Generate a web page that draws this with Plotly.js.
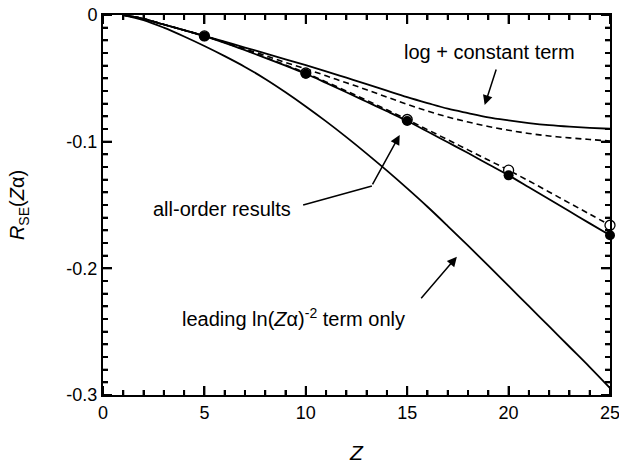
<!DOCTYPE html>
<html>
<head>
<meta charset="utf-8">
<script src="https://cdn.plot.ly/plotly-3.0.1.min.js"></script>
<style>html,body{margin:0;padding:0;background:#fff;}#chart{width:619px;height:468px;}</style>
</head>
<body>
<div id="chart"></div>
<script>
// ---- data ----
const zGrid = [1,2,3,4,5,6,7,8,9,10,11,12,13,14,15,16,17,18,19,20,21,22,23,24,25];
const leadingOnly = [0,-0.004,-0.010,-0.017,-0.0245,-0.0325,-0.041,-0.0505,-0.061,-0.0722,-0.084,-0.0964,-0.1094,-0.1229,-0.1369,-0.1514,-0.1666,-0.1821,-0.1979,-0.2139,-0.2299,-0.2459,-0.2619,-0.2779,-0.2945];
const logConstant = [0,-0.003,-0.0075,-0.012,-0.0165,-0.021,-0.0257,-0.0303,-0.035,-0.0396,-0.0445,-0.0495,-0.0545,-0.0597,-0.0648,-0.0695,-0.074,-0.0775,-0.0808,-0.0832,-0.0853,-0.087,-0.0882,-0.0891,-0.0898];
const logConstantDashed = [0,-0.003,-0.0075,-0.012,-0.0165,-0.0215,-0.0268,-0.032,-0.0375,-0.0425,-0.048,-0.0535,-0.059,-0.0648,-0.0705,-0.0758,-0.0805,-0.0845,-0.088,-0.091,-0.0935,-0.0955,-0.097,-0.0983,-0.0995];
const allOrderLine = [0,-0.003,-0.0075,-0.012,-0.0167,-0.022,-0.0278,-0.0338,-0.040,-0.0464,-0.0536,-0.061,-0.0685,-0.076,-0.0837,-0.092,-0.1005,-0.109,-0.1178,-0.1266,-0.136,-0.1455,-0.155,-0.1645,-0.1739];
const allOrderDashed = [0,-0.003,-0.0075,-0.012,-0.0165,-0.0218,-0.0275,-0.0334,-0.0395,-0.0458,-0.0528,-0.060,-0.0673,-0.0748,-0.0825,-0.0905,-0.0985,-0.1065,-0.1145,-0.1225,-0.131,-0.1397,-0.1485,-0.1572,-0.166];
const zPoints = [5,10,15,20,25];
const filledPoints = [-0.0167,-0.0464,-0.0837,-0.1266,-0.1739];
const openPoints = [-0.0165,-0.0458,-0.0825,-0.1225,-0.166];
const xTickVals = [0,5,10,15,20,25];
const xTickText = ['0','5','10','15','20','25'];
const yTickVals = [0,-0.1,-0.2,-0.3];
const yTickText = ['0','-0.1','-0.2','-0.3'];
const xMinorStep = 1;
const yMinorStep = 0.01;

const FONT = 'Liberation Sans, Arial, Helvetica, sans-serif';
const X_RANGE = [0, 25];
const Y_RANGE = [-0.3, 0];
const W = 619, H = 468;
const MARGIN = {l: 103, r: 9, t: 15, b: 73};
const MAJOR_LEN = 9, MINOR_LEN = 5;   // tick lengths in px

// inward tick marks on all four sides, drawn as one line trace on the same axes
const pxX = (X_RANGE[1] - X_RANGE[0]) / (W - MARGIN.l - MARGIN.r);
const pxY = (Y_RANGE[1] - Y_RANGE[0]) / (H - MARGIN.t - MARGIN.b);
const tickX = [], tickY = [];
for (let k = 0; X_RANGE[0] + k * xMinorStep <= X_RANGE[1] + 1e-9; k++) {
  const v = X_RANGE[0] + k * xMinorStep;
  const len = xTickVals.some(t => Math.abs(t - v) < 1e-9) ? MAJOR_LEN : MINOR_LEN;
  tickX.push(v, v, null, v, v, null);
  tickY.push(Y_RANGE[0], Y_RANGE[0] + len * pxY, null, Y_RANGE[1], Y_RANGE[1] - len * pxY, null);
}
for (let k = 0; Y_RANGE[1] - k * yMinorStep >= Y_RANGE[0] - 1e-9; k++) {
  const v = +(Y_RANGE[1] - k * yMinorStep).toFixed(4);
  const len = yTickVals.some(t => Math.abs(t - v) < 1e-9) ? MAJOR_LEN : MINOR_LEN;
  tickX.push(X_RANGE[0], X_RANGE[0] + len * pxX, null, X_RANGE[1], X_RANGE[1] - len * pxX, null);
  tickY.push(v, v, null, v, v, null);
}

const traces = [
  {x: tickX, y: tickY, mode: 'lines', line: {color: '#000', width: 2}, connectgaps: false, hoverinfo: 'skip'},
  {x: zGrid, y: leadingOnly, mode: 'lines', line: {color: '#000', width: 1.8, shape: 'spline'}},
  {x: zGrid, y: logConstant, mode: 'lines', line: {color: '#000', width: 1.8, shape: 'spline'}},
  {x: zGrid, y: logConstantDashed, mode: 'lines', line: {color: '#000', width: 1.6, dash: '6px,4px', shape: 'spline'}},
  {x: zGrid, y: allOrderDashed, mode: 'lines', line: {color: '#000', width: 1.6, dash: '6px,4px', shape: 'spline'}},
  {x: zGrid, y: allOrderLine, mode: 'lines', line: {color: '#000', width: 1.8, shape: 'spline'}},
  {x: zPoints, y: openPoints, mode: 'markers', cliponaxis: false, marker: {symbol: 'circle', size: 10, color: '#fff', line: {color: '#000', width: 1.3}}},
  {x: zPoints, y: filledPoints, mode: 'markers', cliponaxis: false, marker: {symbol: 'circle', size: 10, color: '#000', line: {color: '#000', width: 0}}}
];

const layout = {
  width: W, height: H,
  margin: MARGIN,
  paper_bgcolor: '#fff', plot_bgcolor: '#fff',
  showlegend: false,
  font: {family: FONT, color: '#000'},
  xaxis: {
    range: X_RANGE, tickmode: 'array', tickvals: xTickVals, ticktext: xTickText,
    showline: true, linecolor: '#000', linewidth: 2, mirror: 'allticks',
    ticks: 'inside', ticklen: MAJOR_LEN, tickwidth: 2, tickcolor: '#000',
    minor: {tickmode: 'linear', tick0: 0, dtick: xMinorStep, ticks: 'inside', ticklen: MINOR_LEN, tickwidth: 2, tickcolor: '#000', showgrid: false},
    showgrid: false, zeroline: false, ticklabeloverflow: 'allow',
    tickfont: {family: FONT, size: 18, color: '#000'},
    title: {text: '<i>Z</i>', font: {family: FONT, size: 21, color: '#000'}, standoff: 24}
  },
  yaxis: {
    range: Y_RANGE, tickmode: 'array', tickvals: yTickVals, ticktext: yTickText,
    showline: true, linecolor: '#000', linewidth: 2, mirror: 'allticks',
    ticks: 'inside', ticklen: MAJOR_LEN, tickwidth: 2, tickcolor: '#000',
    minor: {tickmode: 'linear', tick0: 0, dtick: yMinorStep, ticks: 'inside', ticklen: MINOR_LEN, tickwidth: 2, tickcolor: '#000', showgrid: false},
    showgrid: false, zeroline: false, ticklabeloverflow: 'allow',
    tickfont: {family: FONT, size: 18, color: '#000'},
    title: {text: '<i>R</i><sub>SE</sub>(<i>Z</i>α)', font: {family: FONT, size: 20, color: '#000'}, standoff: 36}
  },
  shapes: [
    {type: 'line', xref: 'x', yref: 'y', x0: 9.87, y0: -0.150, x1: 13.26, y1: -0.135, line: {color: '#000', width: 1.5}}
  ],
  annotations: [
    {x: 23.35, y: -0.0292, xref: 'x', yref: 'y', text: 'log + constant term', showarrow: false, xanchor: 'right', yanchor: 'middle', font: {family: FONT, size: 20, color: '#000'}},
    {x: 18.82, y: -0.0711, xref: 'x', yref: 'y', text: '', showarrow: true, ax: 12, ay: -37, arrowhead: 2, arrowsize: 1.3, arrowwidth: 1.5, arrowcolor: '#000'},
    {x: 2.35, y: -0.1532, xref: 'x', yref: 'y', text: 'all-order results', showarrow: false, xanchor: 'left', yanchor: 'middle', font: {family: FONT, size: 20, color: '#000'}},
    {x: 14.63, y: -0.0947, xref: 'x', yref: 'y', text: '', showarrow: true, ax: -28, ay: 51, arrowhead: 2, arrowsize: 1.3, arrowwidth: 1.5, arrowcolor: '#000'},
    {x: 3.79, y: -0.239, xref: 'x', yref: 'y', text: 'leading ln(<i>Z</i>α)<sup>-2</sup> term only', showarrow: false, xanchor: 'left', yanchor: 'middle', font: {family: FONT, size: 20, color: '#000'}},
    {x: 17.45, y: -0.1908, xref: 'x', yref: 'y', text: '', showarrow: true, ax: -37, ay: 43, arrowhead: 2, arrowsize: 1.3, arrowwidth: 1.5, arrowcolor: '#000'}
  ]
};

Plotly.newPlot('chart', traces, layout, {staticPlot: true, displayModeBar: false});
</script>
</body>
</html>
